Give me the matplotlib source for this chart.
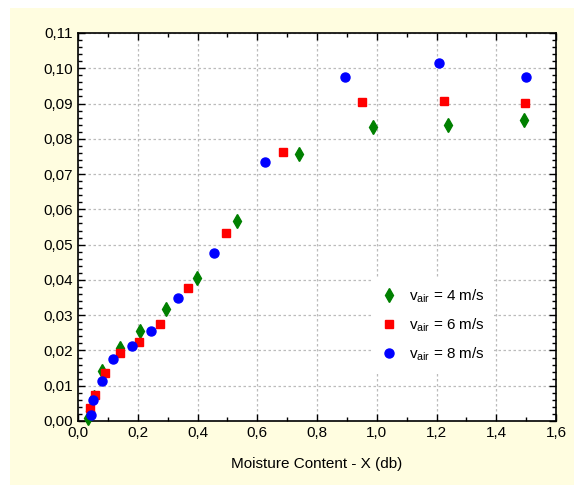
import matplotlib
matplotlib.use("Agg")
import matplotlib.pyplot as plt
from matplotlib.ticker import MultipleLocator, AutoMinorLocator, FuncFormatter
from matplotlib.patches import Rectangle

plt.rcParams['font.family'] = ['Liberation Sans', 'DejaVu Sans']
plt.rcParams['mathtext.fontset'] = 'custom'
plt.rcParams['mathtext.rm'] = 'Liberation Sans'
plt.rcParams['mathtext.it'] = 'Liberation Sans'

# moisture content (db) vs drying rate, three air velocities
x_4 = [0.034, 0.041, 0.054, 0.080, 0.140, 0.207, 0.294, 0.397, 0.532, 0.739, 0.989, 1.237, 1.494]
y_4 = [0.0008, 0.0027, 0.0069, 0.0142, 0.0208, 0.0255, 0.0318, 0.0405, 0.0567, 0.0758, 0.0834, 0.0839, 0.0853]

x_6 = [0.040, 0.057, 0.089, 0.140, 0.204, 0.274, 0.368, 0.495, 0.685, 0.952, 1.226, 1.497]
y_6 = [0.0036, 0.0074, 0.0135, 0.0194, 0.0223, 0.0274, 0.0376, 0.0533, 0.0764, 0.0904, 0.0908, 0.0901]

x_8 = [0.045, 0.049, 0.079, 0.118, 0.182, 0.246, 0.335, 0.455, 0.625, 0.895, 1.208, 1.500]
y_8 = [0.0017, 0.0060, 0.0114, 0.0175, 0.0212, 0.0256, 0.0350, 0.0476, 0.0733, 0.0976, 0.1015, 0.0976]

labels = [r'$v_{air}$ = 4 m/s', r'$v_{air}$ = 6 m/s', r'$v_{air}$ = 8 m/s']

fig = plt.figure(figsize=(5.74, 4.97), dpi=100, facecolor='white')
# yellow panel behind the plot
fig.patches.append(Rectangle((10 / 574, 12 / 497), 1, (497 - 20) / 497,
                             transform=fig.transFigure, facecolor='#FFFDE0',
                             edgecolor='none', zorder=-1))
ax = fig.add_axes([78 / 574, 1 - 421 / 497, 478 / 574, 388 / 497])
ax.set_facecolor('white')

ax.plot(x_4, y_4, 'd', color='#008000', ms=7, mec='#008000', label=labels[0], clip_on=False, zorder=3)
ax.plot(x_6, y_6, 's', color='#FF0000', ms=6, mec='#FF0000', label=labels[1], clip_on=False, zorder=3)
ax.plot(x_8, y_8, 'o', color='#0000FF', ms=6.5, mec='#0000FF', label=labels[2], clip_on=False, zorder=3)

ax.set_xlim(0, 1.6)
ax.set_ylim(0, 0.11)
ax.xaxis.set_major_locator(MultipleLocator(0.2))
ax.yaxis.set_major_locator(MultipleLocator(0.01))
ax.xaxis.set_minor_locator(AutoMinorLocator(2))
ax.yaxis.set_minor_locator(AutoMinorLocator(5))
ax.xaxis.set_major_formatter(FuncFormatter(lambda v, p: f'{v:.1f}'.replace('.', ',')))
ax.yaxis.set_major_formatter(FuncFormatter(lambda v, p: f'{v:.2f}'.replace('.', ',')))

ax.tick_params(which='both', direction='in', top=True, right=True, labelsize=11, colors='black')
ax.tick_params(which='major', length=5, width=1)
ax.tick_params(which='minor', length=3, width=1)
ax.grid(True, which='major', linestyle=(0, (2, 2)), color='#BBBBBB', linewidth=0.9)
ax.set_axisbelow(True)
for s in ax.spines.values():
    s.set_linewidth(1.2)

ax.set_xlabel('Moisture Content - X (db)', fontsize=11, labelpad=12)

leg = ax.legend(loc='upper left', bbox_to_anchor=(0.60, 0.387), fontsize=11, frameon=True,
                fancybox=False, edgecolor='none', facecolor='white', framealpha=1,
                handlelength=1.0, handletextpad=0.8, labelspacing=0.75, borderpad=0.6)

fig.savefig('out.png', dpi=100, facecolor=fig.get_facecolor())
